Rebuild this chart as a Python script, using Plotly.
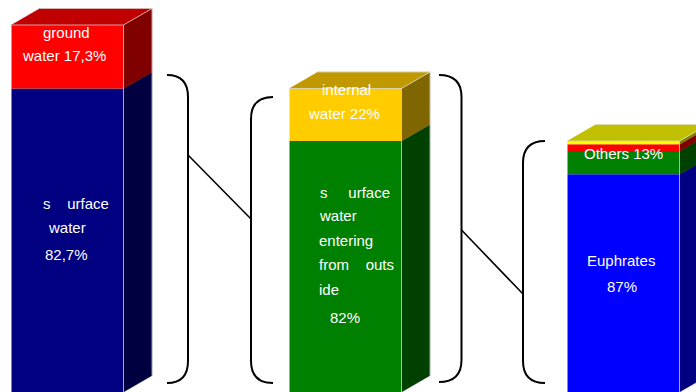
import plotly.graph_objects as go

# ---------------- data (heights in units: total water resources = 100) ----------------
bar_positions = [0, 1, 2]

bar1_segments = ["surface water", "ground water"]
bar1_values = [82.7, 17.3]

bar2_segments = ["surface water entering from outside", "internal water"]
bar2_values = [68.4, 14.3]

bar3_segments = ["Euphrates", "others (green)", "others (red)", "others (yellow)"]
bar3_values = [59.3, 6.35, 1.83, 0.9]

bar1_front = ["#000080", "#FF0000"]
bar1_side = ["#000040", "#800000"]
bar1_top = "#C00000"

bar2_front = ["#008000", "#FFCC00"]
bar2_side = ["#004000", "#806600"]
bar2_top = "#C09900"

bar3_front = ["#0000FF", "#008000", "#FF0000", "#FFFF00"]
bar3_side = ["#000080", "#004000", "#800000", "#808000"]
bar3_top = "#C0C000"

# ---------------- geometry / scales ----------------
W, H = 696, 392
OFF = 0                 # body margin removed by post_script below
PX_PER_X = 278.0        # pixels per category step
PX_PER_Y = 3.67         # pixels per value unit
X0_PX = 67.5            # screen pixel centre of first bar
BASE_PX = 392.0         # screen pixel row of zero

XR = [(OFF - X0_PX) / PX_PER_X, (OFF + W - X0_PX) / PX_PER_X]
YR = [(BASE_PX - (OFF + H)) / PX_PER_Y, (BASE_PX - OFF) / PX_PER_Y]

BAR_W = 112 / PX_PER_X
DX = 28.5 / PX_PER_X
DY = 16.5 / PX_PER_Y


def px2x(px):
    return (px - X0_PX) / PX_PER_X


def px2y(py):
    return (BASE_PX - py) / PX_PER_Y


fig = go.Figure()

bars = [
    (bar_positions[0], bar1_values, bar1_segments, bar1_front, bar1_side, bar1_top),
    (bar_positions[1], bar2_values, bar2_segments, bar2_front, bar2_side, bar2_top),
    (bar_positions[2], bar3_values, bar3_segments, bar3_front, bar3_side, bar3_top),
]

edge_col = "rgba(225,225,225,0.7)"
bottom = YR[0] - 1

for pos, vals, names, fronts, sides, topc in bars:
    xl, xr = pos - BAR_W / 2, pos + BAR_W / 2
    b = 0.0
    for k, (v, n, fc, sc) in enumerate(zip(vals, names, fronts, sides)):
        t = b + v
        b0 = bottom if k == 0 else b
        fig.add_trace(go.Bar(x=[pos], y=[t - b0], base=[b0], width=BAR_W, name=n,
                             marker=dict(color=fc, line=dict(width=0)),
                             hoverinfo="skip"))
        fig.add_trace(go.Scatter(
            x=[xr, xr + DX, xr + DX, xr, xr],
            y=[b, b + DY, t + DY, t, b],
            mode="lines", fill="toself", fillcolor=sc,
            line=dict(width=0.5, color=sc), hoverinfo="skip"))
        b = t
    T = b
    fig.add_trace(go.Scatter(
        x=[xl, xl + DX, xr + DX, xr, xl],
        y=[T, T + DY, T + DY, T, T],
        mode="lines", fill="toself", fillcolor=topc,
        line=dict(width=0.5, color=topc), hoverinfo="skip"))
    # light edges
    fig.add_trace(go.Scatter(
        x=[xl, xr, xr, None, xr, xr + DX, xr + DX, None, xl + DX, xr + DX],
        y=[T, T, 0, None, T, T + DY, 0 + DY, None, T + DY, T + DY],
        mode="lines", line=dict(width=1, color=edge_col), hoverinfo="skip"))

# ---------------- brackets and connectors ----------------
def bracket(x_tip, x_stem, y_top, y_bot, r=22):
    xt, xs = px2x(x_tip), px2x(x_stem)
    yt, yb = px2y(y_top), px2y(y_bot)
    ry = r / PX_PER_Y
    return (f"M {xt},{yt} Q {xs},{yt} {xs},{yt - ry} "
            f"L {xs},{yb + ry} Q {xs},{yb} {xt},{yb}")


brackets = [
    (167, 188, 75, 383),
    (273, 251, 97, 383),
    (439, 461.5, 75, 382),
    (545, 523, 141, 383),
]
shapes = []
for xt, xs, yt, yb in brackets:
    shapes.append(dict(type="path", xref="x", yref="y", path=bracket(xt, xs, yt, yb),
                       line=dict(color="black", width=2)))

connectors = [((188, 155), (251, 219)), ((461.5, 230), (523, 294))]
for (ax, ay), (bx, by) in connectors:
    shapes.append(dict(type="line", xref="x", yref="y",
                       x0=px2x(ax), y0=px2y(ay), x1=px2x(bx), y1=px2y(by),
                       line=dict(color="black", width=1.6)))

# ---------------- labels ----------------
NB = "\u00a0"
labels = [
    ("ground", 66, 32, "center"),
    ("water 17,3%", 64, 55, "center"),
    ("s" + NB * 4 + "urface", 75.5, 203, "center"),
    ("water", 67, 227, "center"),
    ("82,7%", 66, 254, "center"),
    ("internal", 346, 89, "center"),
    ("water 22%", 344, 113, "center"),
    ("s" + NB * 5 + "urface", 318, 192, "left"),
    ("water", 317, 215, "left"),
    ("entering", 317, 240, "left"),
    ("from" + NB * 4 + "outs", 317, 264, "left"),
    ("ide", 317, 289, "left"),
    ("82%", 345, 317, "center"),
    ("Others 13%", 623, 153, "center"),
    ("Euphrates", 621, 260, "center"),
    ("87%", 622, 286, "center"),
]
annotations = []
for txt, x, y, anc in labels:
    annotations.append(dict(text=txt, x=px2x(x), y=px2y(y), xref="x", yref="y",
                            xanchor=anc, yanchor="middle", showarrow=False,
                            font=dict(family="Liberation Sans, Arial, sans-serif",
                                      size=15, color="#FFFFFF")))

fig.update_layout(
    width=W, height=H,
    margin=dict(l=0, r=0, t=0, b=0),
    paper_bgcolor="white", plot_bgcolor="white",
    barmode="overlay", showlegend=False,
    xaxis=dict(range=XR, visible=False, fixedrange=True),
    yaxis=dict(range=YR, visible=False, fixedrange=True),
    shapes=shapes, annotations=annotations,
)

fig.write_html(
    "out.html",
    config={"displayModeBar": False, "staticPlot": True},
    post_script="document.body.style.margin='0';document.body.style.overflow='hidden';",
)
